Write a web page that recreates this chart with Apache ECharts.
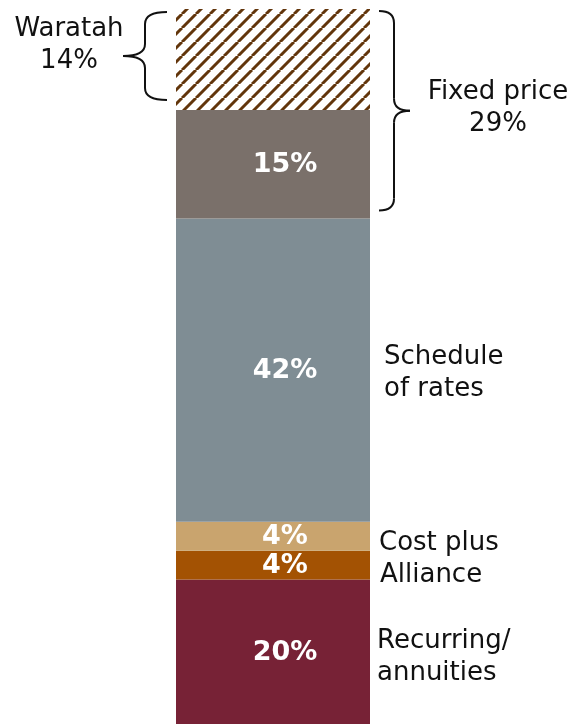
<!DOCTYPE html>
<html>
<head>
<meta charset="utf-8">
<script src="https://cdn.jsdelivr.net/npm/echarts@6/dist/echarts.min.js"></script>
<style>
  html, body { margin: 0; padding: 0; background: #fff; }
  #chart { width: 574px; height: 724px; }
</style>
</head>
<body>
<div id="chart"></div>
<script>
// Contract mix, stacked bottom to top
const segmentNames = ['Recurring/annuities', 'Alliance', 'Cost plus', 'Schedule of rates', 'Fixed price (other)', 'Waratah'];
const shares = [20, 4, 4, 42, 15, 14];
const sideLabels = ['Recurring/\nannuities', 'Alliance', 'Cost plus', 'Schedule\nof rates', '', ''];
const groupName = 'Fixed price';
const groupMembers = [4, 5]; // indices that make up the fixed price group
const waratahIndex = 5;

const FONT = '"DejaVu Sans", sans-serif';

// Diagonal brown stripes on white
function stripePattern() {
  const s = 14;
  const c = document.createElement('canvas');
  c.width = s; c.height = s;
  const g = c.getContext('2d');
  g.fillStyle = '#ffffff';
  g.fillRect(0, 0, s, s);
  g.strokeStyle = '#62350b';
  g.lineWidth = 3.0;
  g.beginPath();
  for (const d of [-s, 0, s]) {
    g.moveTo(d, s);
    g.lineTo(d + s, 0);
  }
  g.stroke();
  return c;
}

const fills = ['#772236', '#a35203', '#c9a46e', '#7f8d94', '#7a706a', { image: stripePattern(), repeat: 'repeat' }];
const total = shares.reduce((a, b) => a + b, 0);

const chart = echarts.init(document.getElementById('chart'), null, { renderer: 'canvas' });

const barSeries = shares.map((v, i) => ({
  type: 'bar',
  name: segmentNames[i],
  stack: 'mix',
  barWidth: '100%',
  data: [v],
  itemStyle: { color: fills[i] },
  label: {
    show: i !== waratahIndex,
    position: 'inside',
    offset: [12, 1],
    formatter: '{c}%',
    color: '#ffffff',
    fontFamily: FONT,
    fontWeight: 'bold',
    fontSize: 27
  },
  silent: true
}));

// Midpoints of each stacked segment, used to place the side captions
const mids = [];
let acc = 0;
shares.forEach(v => { mids.push(acc + v / 2); acc += v; });
const sideOffsets = [[-2, 5], [1, 10], [0, 7], [5, 3], [0, 0], [0, 0]];

const sideSeries = {
  type: 'scatter',
  symbolSize: 0,
  silent: true,
  z: 5,
  itemStyle: { opacity: 1 },
  data: mids.map((m, i) => ({
    value: ['mix', m],
    label: {
      show: sideLabels[i] !== '',
      formatter: sideLabels[i],
      position: 'right',
      distance: 106,
      offset: sideOffsets[i],
      align: 'left',
      color: '#111111',
      opacity: 1,
      fontFamily: FONT,
      fontSize: 26,
      lineHeight: 32
    }
  }))
};

chart.setOption({
  animation: false,
  backgroundColor: '#ffffff',
  grid: { left: 176, width: 194, top: 9, bottom: 0 },
  xAxis: { type: 'category', data: ['mix'], show: false },
  yAxis: { type: 'value', min: 0, max: total, show: false },
  series: [...barSeries, sideSeries]
});

// Curly brace built from lines and quadratic curves.
// dir = -1 : opening brace, tip on the left; dir = +1 : closing brace, tip on the right.
function brace(xEdge, dir, yTop, yBot, armLen, tipLen) {
  const stem = xEdge + dir * armLen;
  const tip = stem + dir * tipLen;
  const r = 12;
  const yMid = (yTop + yBot) / 2;
  const st = { stroke: '#111111', lineWidth: 2, fill: null };
  return [
    { type: 'bezierCurve', shape: { x1: xEdge, y1: yTop, cpx1: stem, cpy1: yTop, x2: stem, y2: yTop + r }, style: st },
    { type: 'line', shape: { x1: stem, y1: yTop + r, x2: stem, y2: yMid - r }, style: st },
    { type: 'bezierCurve', shape: { x1: stem, y1: yMid - r, cpx1: stem, cpy1: yMid, x2: tip, y2: yMid }, style: st },
    { type: 'bezierCurve', shape: { x1: tip, y1: yMid, cpx1: stem, cpy1: yMid, x2: stem, y2: yMid + r }, style: st },
    { type: 'line', shape: { x1: stem, y1: yMid + r, x2: stem, y2: yBot - r }, style: st },
    { type: 'bezierCurve', shape: { x1: stem, y1: yBot - r, cpx1: stem, cpy1: yBot, x2: xEdge, y2: yBot }, style: st }
  ].map(e => Object.assign(e, { silent: true }));
}

function pix(y) { return chart.convertToPixel({ gridIndex: 0 }, ['mix', y]); }

const waratahBase = shares.slice(0, waratahIndex).reduce((a, b) => a + b, 0);
const wTop = pix(waratahBase + shares[waratahIndex]);
const wBot = pix(waratahBase);
const groupBase = shares.slice(0, groupMembers[0]).reduce((a, b) => a + b, 0);
const groupSum = groupMembers.reduce((a, i) => a + shares[i], 0);
const gTop = pix(groupBase + groupSum);
const gBot = pix(groupBase);

const barLeft = wTop[0] - 97;
const barRight = wTop[0] + 97;

const leftBrace = brace(barLeft - 9, -1, wTop[1] + 3, wBot[1] - 10, 22, 22);
const rightBrace = brace(barRight + 9, 1, gTop[1] + 2, gBot[1] - 8, 15, 16);

const textStyle = { fill: '#111111', font: '26px ' + FONT, align: 'center', verticalAlign: 'middle', lineHeight: 32 };

chart.setOption({
  graphic: [
    ...leftBrace,
    ...rightBrace,
    {
      type: 'text', silent: true,
      style: Object.assign({}, textStyle, {
        text: 'Waratah\n' + shares[waratahIndex] + '%',
        x: 69, y: (wTop[1] + wBot[1]) / 2 - 14
      })
    },
    {
      type: 'text', silent: true,
      style: Object.assign({}, textStyle, {
        text: groupName + '\n' + groupSum + '%',
        x: 498, y: (gTop[1] + gBot[1]) / 2 - 5
      })
    }
  ]
});
</script>
</body>
</html>
